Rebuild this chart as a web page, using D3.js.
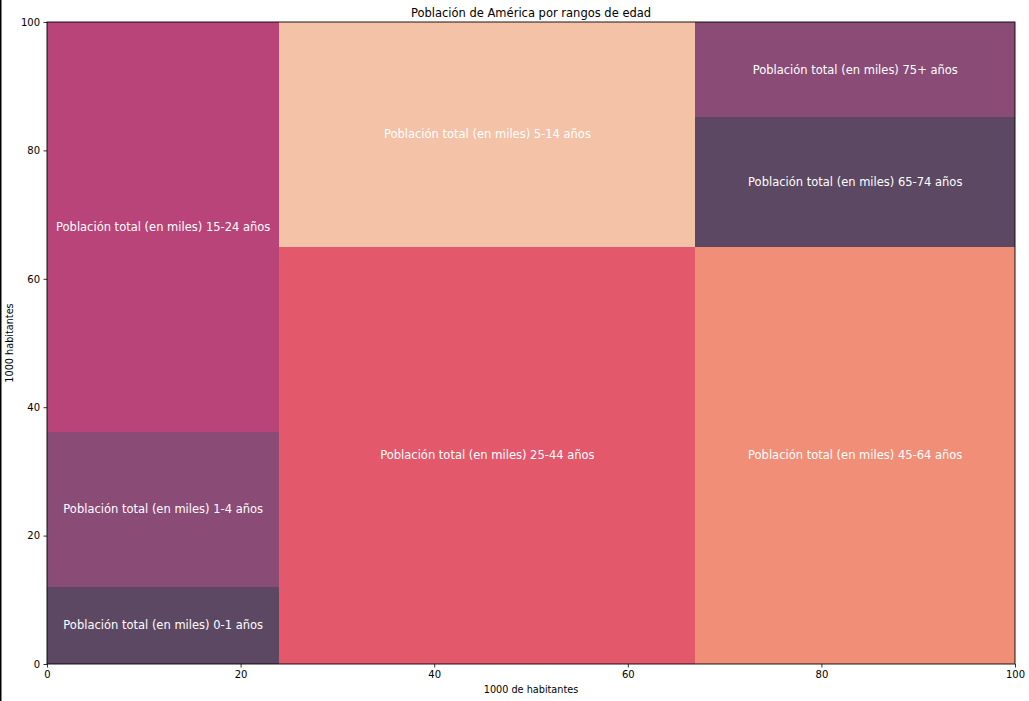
<!DOCTYPE html>
<html>
<head>
<meta charset="utf-8">
<script src="https://cdn.jsdelivr.net/npm/d3@7"></script>
<style>
  body { margin: 0; background: #fff; }
  svg text { font-family: "DejaVu Sans", sans-serif; }
</style>
</head>
<body>
<div id="container"></div>
<script>
// data, in the order squarify lays it out
const groups = ["0-1", "1-4", "15-24", "25-44", "45-64", "5-14", "65-74", "75+"];
const values = [288, 580, 1533, 2793, 2145, 1507, 667, 490];
const colors = ["#5d4863", "#8b4b77", "#b94479", "#e3596b", "#f18e78", "#f4c2a7", "#5d4863", "#8b4b77"];
const xTicks = [0, 20, 40, 60, 80, 100];
const yTicks = [0, 20, 40, 60, 80, 100];

const w = 1029;
const h = 701;
const margin = { top: 22, right: 14, bottom: 37, left: 47 };

// squarify (same logic as the python package)
const sum = (a) => a.reduce((s, v) => s + v, 0);

function normalize(sizes, dx, dy) {
  const total = sum(sizes);
  return sizes.map(s => s * dx * dy / total);
}
function layoutRow(sizes, x, y, dx, dy) {
  const width = sum(sizes) / dy;
  const out = [];
  sizes.forEach(s => { out.push({ x, y, dx: width, dy: s / width }); y += s / width; });
  return out;
}
function layoutCol(sizes, x, y, dx, dy) {
  const height = sum(sizes) / dx;
  const out = [];
  sizes.forEach(s => { out.push({ x, y, dx: s / height, dy: height }); x += s / height; });
  return out;
}
function layout(sizes, x, y, dx, dy) {
  return dx >= dy ? layoutRow(sizes, x, y, dx, dy) : layoutCol(sizes, x, y, dx, dy);
}
function leftover(sizes, x, y, dx, dy) {
  const covered = sum(sizes);
  if (dx >= dy) { const width = covered / dy; return [x + width, y, dx - width, dy]; }
  const height = covered / dx;
  return [x, y + height, dx, dy - height];
}
function worstRatio(sizes, x, y, dx, dy) {
  return d3.max(layout(sizes, x, y, dx, dy), r => Math.max(r.dx / r.dy, r.dy / r.dx));
}
function squarify(sizes, x, y, dx, dy) {
  if (sizes.length === 0) return [];
  if (sizes.length === 1) return layout(sizes, x, y, dx, dy);
  let i = 1;
  while (i < sizes.length &&
         worstRatio(sizes.slice(0, i), x, y, dx, dy) >= worstRatio(sizes.slice(0, i + 1), x, y, dx, dy)) {
    i++;
  }
  const current = sizes.slice(0, i);
  const remaining = sizes.slice(i);
  const [lx, ly, ldx, ldy] = leftover(current, x, y, dx, dy);
  return layout(current, x, y, dx, dy).concat(squarify(remaining, lx, ly, ldx, ldy));
}

const rects = squarify(normalize(values, 100, 100), 0, 0, 100, 100)
  .map((r, i) => ({ ...r, group: groups[i], color: colors[i] }));

const xScale = d3.scaleLinear().domain([0, 100]).range([margin.left, w - margin.right]);
const yScale = d3.scaleLinear().domain([0, 100]).range([h - margin.bottom, margin.top]);

const svg = d3.select("#container")
  .append("svg")
  .attr("width", w)
  .attr("height", h);

svg.append("rect").attr("width", w).attr("height", h).attr("fill", "#fff");

svg.selectAll("rect.cell")
  .data(rects)
  .enter()
  .append("rect")
  .attr("class", "cell")
  .attr("x", d => xScale(d.x))
  .attr("y", d => yScale(d.y + d.dy))
  .attr("width", d => xScale(d.x + d.dx) - xScale(d.x))
  .attr("height", d => yScale(d.y) - yScale(d.y + d.dy))
  .attr("fill", d => d.color)
  .attr("shape-rendering", "crispEdges");

svg.selectAll("text.cell-label")
  .data(rects)
  .enter()
  .append("text")
  .attr("class", "cell-label")
  .attr("x", d => xScale(d.x + d.dx / 2))
  .attr("y", d => yScale(d.y + d.dy / 2))
  .attr("text-anchor", "middle")
  .attr("dominant-baseline", "central")
  .attr("font-size", 11.5)
  .attr("fill", "#fff")
  .text(d => `Población total (en miles) ${d.group} años`);

// frame
svg.append("rect")
  .attr("x", xScale(0))
  .attr("y", yScale(100))
  .attr("width", xScale(100) - xScale(0))
  .attr("height", yScale(0) - yScale(100))
  .attr("fill", "none")
  .attr("stroke", "#000")
  .attr("stroke-width", 0.9);

const xAxis = svg.append("g")
  .attr("transform", "translate(0," + yScale(0) + ")")
  .call(d3.axisBottom(xScale).tickValues(xTicks).tickSize(3.5).tickSizeOuter(0).tickPadding(3.5));

const yAxis = svg.append("g")
  .attr("transform", "translate(" + xScale(0) + ",0)")
  .call(d3.axisLeft(yScale).tickValues(yTicks).tickSize(3.5).tickSizeOuter(0).tickPadding(3.5));

[xAxis, yAxis].forEach(g => {
  g.select(".domain").remove();
  g.selectAll("text").attr("font-size", 10).attr("fill", "#000").attr("font-family", "DejaVu Sans");
  g.selectAll("line").attr("stroke", "#000").attr("stroke-width", 0.8);
});

svg.append("text")
  .attr("x", (xScale(0) + xScale(100)) / 2)
  .attr("y", 17)
  .attr("text-anchor", "middle")
  .attr("font-size", 11.5)
  .text("Población de América por rangos de edad");

svg.append("text")
  .attr("x", (xScale(0) + xScale(100)) / 2)
  .attr("y", 693)
  .attr("text-anchor", "middle")
  .attr("font-size", 9.7)
  .text("1000 de habitantes");

svg.append("text")
  .attr("transform", "translate(13," + (yScale(50)) + ") rotate(-90)")
  .attr("text-anchor", "middle")
  .attr("font-size", 9.7)
  .text("1000 habitantes");

// left edge line seen in the picture
svg.append("line")
  .attr("x1", 0.75).attr("x2", 0.75)
  .attr("y1", 0).attr("y2", h)
  .attr("stroke", "#000")
  .attr("stroke-width", 1.5);
</script>
</body>
</html>
